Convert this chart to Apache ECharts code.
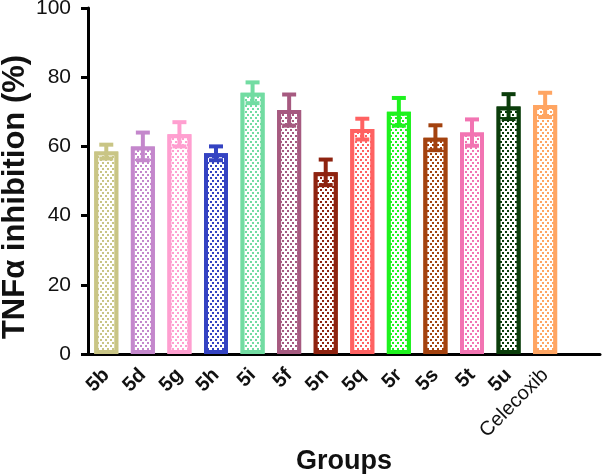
<!DOCTYPE html>
<html>
<head>
<meta charset="utf-8">
<script src="https://cdn.jsdelivr.net/npm/echarts@6/dist/echarts.min.js"></script>
<style>html,body{margin:0;padding:0;background:#fff;}#c{width:608px;height:474px;}</style>
</head>
<body>
<div id="c"></div>
<script>
const categories = ['5b','5d','5g','5h','5i','5f','5n','5q','5r','5s','5t','5u','Celecoxib',''];
const values = [58.5, 60, 63.5, 58, 75.5, 70.5, 52.5, 65, 70, 62.5, 64, 71.5, 72];
const errors = [2, 4, 3.5, 2, 3, 4.5, 3.7, 3, 4, 3.6, 3.8, 3.6, 3.5];
const palette = ['#c9c585','#c487cc','#ff9fd0','#3443c2','#72dca2','#a65a80','#8e2310','#ff6262','#1ef21e','#a3420f','#f274b2','#0b3d0b','#ffa562'];
const yTicks = [0, 20, 40, 60, 80, 100];
const yTitle = 'TNFα inhibition (%)';
const xTitle = 'Groups';

const chart = echarts.init(document.getElementById('c'), null, {renderer: 'canvas'});

const barData = values.map((v, i) => ({
  value: v,
  itemStyle: {
    color: '#ffffff',
    borderColor: palette[i],
    borderWidth: 4,
    decal: {
      symbol: 'rect',
      symbolSize: 1,
      color: palette[i],
      backgroundColor: '#ffffff',
      dashArrayX: [[1.5, 2.5], [0, 2, 1.5, 0.5]],
      dashArrayY: [1.5, 1],
      rotation: 0
    }
  }
}));

const errData = values.map((v, i) => [i, v - errors[i], v + errors[i]]);

chart.setOption({
  animation: false,
  grid: {left: 88, right: 8, top: 8, bottom: 120, containLabel: false, outerBoundsMode: 'none'},
  graphic: [{
    type: 'text',
    x: 15, y: 197,
    rotation: Math.PI / 2,
    style: {
      text: yTitle,
      fontFamily: 'Arial', fontWeight: 'bold', fontSize: 31, fill: '#111',
      align: 'center', verticalAlign: 'middle'
    }
  }],
  xAxis: {
    type: 'category',
    data: categories,
    name: xTitle,
    nameLocation: 'middle',
    nameGap: 93,
    nameTextStyle: {fontFamily: 'Arial', fontWeight: 'bold', fontSize: 27, color: '#111'},
    axisLine: {lineStyle: {color: '#000', width: 3}},
    axisTick: {alignWithLabel: true, interval: 0, length: 6, lineStyle: {color: '#000', width: 3}},
    axisLabel: {
      interval: 0,
      rotate: 45, margin: 18, fontFamily: 'Arial', fontSize: 20, color: '#111',
      fontWeight: 'bold',
      formatter: function (v) { return v === 'Celecoxib' ? '{n|' + v + '}' : v; },
      rich: {n: {fontWeight: 'normal', fontSize: 20, fontFamily: 'Arial', color: '#111'}}
    }
  },
  yAxis: {
    type: 'value',
    min: yTicks[0], max: yTicks[yTicks.length - 1], interval: 20,
    axisLine: {show: true, lineStyle: {color: '#000', width: 3}},
    axisTick: {show: true, length: 7, lineStyle: {color: '#000', width: 3}},
    axisLabel: {margin: 17, fontFamily: 'Arial', fontSize: 21, color: '#111'},
    splitLine: {show: false}
  },
  series: [
    {
      type: 'bar',
      data: barData,
      barWidth: 24,
      z: 2
    },
    {
      type: 'custom',
      z: 3,
      data: errData,
      renderItem: function (params, api) {
        const idx = api.value(0);
        const lo = api.coord([idx, api.value(1)]);
        const hi = api.coord([idx, api.value(2)]);
        const hw = 7;
        const col = palette[params.dataIndex];
        const st = {stroke: col, lineWidth: 4};
        return {
          type: 'group',
          children: [
            {type: 'line', shape: {x1: hi[0], y1: hi[1], x2: lo[0], y2: lo[1]}, style: st},
            {type: 'line', shape: {x1: hi[0] - hw, y1: hi[1], x2: hi[0] + hw, y2: hi[1]}, style: st},
            {type: 'line', shape: {x1: lo[0] - hw, y1: lo[1], x2: lo[0] + hw, y2: lo[1]}, style: st}
          ]
        };
      }
    }
  ]
});
</script>
</body>
</html>
